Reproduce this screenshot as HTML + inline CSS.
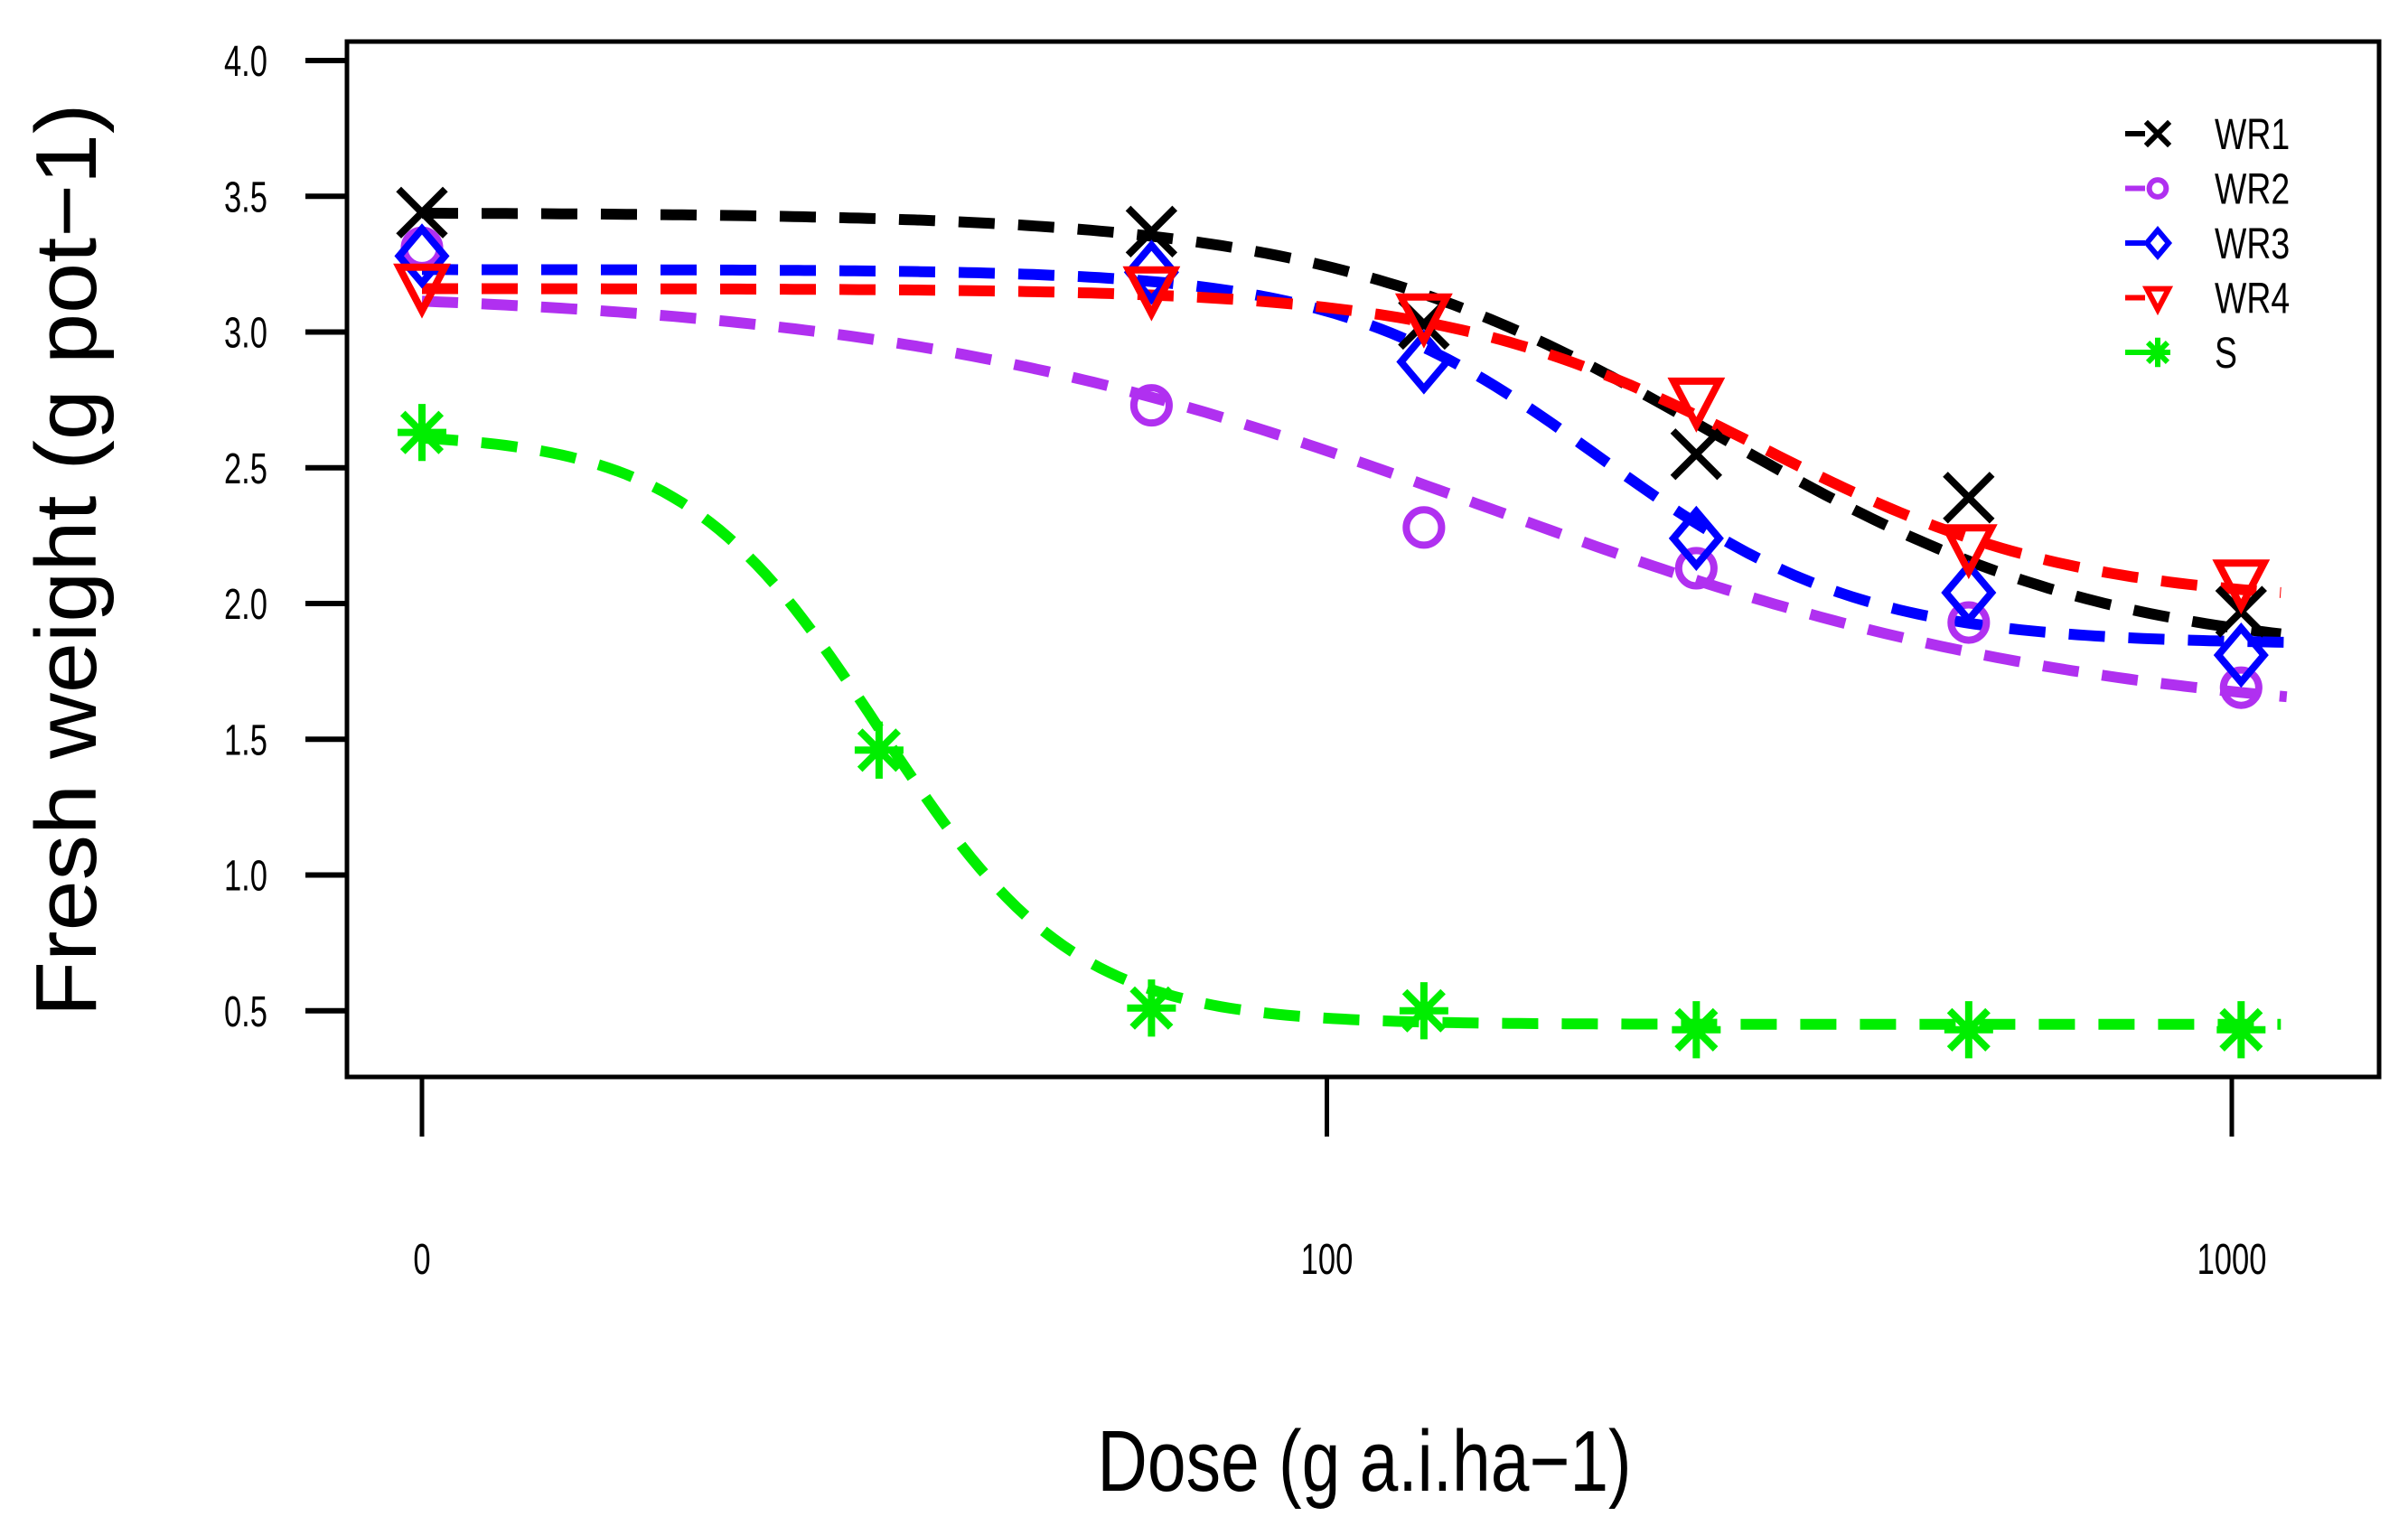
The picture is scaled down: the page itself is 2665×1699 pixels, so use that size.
<!DOCTYPE html>
<html><head><meta charset="utf-8"><style>
html,body{margin:0;padding:0;background:#fff;}
svg{display:block;}
</style></head><body>
<svg id="chart" width="2665" height="1699" viewBox="0 0 2665 1699" xmlns="http://www.w3.org/2000/svg" font-family="Liberation Sans, sans-serif">
<rect x="384" y="46" width="2249" height="1146" fill="none" stroke="#000" stroke-width="5"/>
<g id="yaxis"></g>
<g id="xaxis"></g>
<g id="curves"></g>
<g id="points"></g>
<g id="legend"></g>
<text x="0" y="0" transform="translate(106,620) rotate(-90) scale(1.05,1)" text-anchor="middle" font-size="96" fill="#000">Fresh weight (g pot−1)</text>
<text x="0" y="0" transform="translate(1510,1650) scale(0.8,1)" text-anchor="middle" font-size="96" fill="#000">Dose (g a.i.ha−1)</text>
</svg>
<script>
const yTicks = [0.5, 1.0, 1.5, 2.0, 2.5, 3.0, 3.5, 4.0];
const xTickDoses = [0, 100, 1000];
const xTickLabels = ["0", "100", "1000"];
const seriesNames = ["WR1", "WR2", "WR3", "WR4", "S"];
const seriesColors = ["#000000", "#b030f0", "#0000ff", "#ff0000", "#00ee00"];
const seriesMarkers = ["x", "circle", "diamond", "triangle", "star"];
const dosesWR = [0, 64, 128, 256, 512, 1024];
const dosesS = [0, 32, 64, 128, 256, 512, 1024];
const valuesWR1 = [3.44, 3.37, 3.03, 2.55, 2.39, 1.97];
const valuesWR2 = [3.31, 2.73, 2.28, 2.13, 1.93, 1.69];
const valuesWR3 = [3.28, 3.22, 2.89, 2.24, 2.04, 1.81];
const valuesWR4 = [3.17, 3.16, 3.06, 2.75, 2.21, 2.08];
const valuesS = [2.63, 1.46, 0.51, 0.50, 0.43, 0.43, 0.43];
// log-logistic fit params: lower c, upper d, slope b, ED50 e, max dose
const fitC = [1.80, 1.55, 1.85, 2.00, 0.45];
const fitD = [3.44, 3.16, 3.23, 3.16, 2.63];
const fitB = [2.0, 1.3, 3.0, 2.5, 4.0];
const fitE = [270, 150, 200, 300, 32];
const fitMax = [1133, 1150, 1200, 1133, 1133];

const NS = "http://www.w3.org/2000/svg";
function X(d){ const v = d <= 0 ? 10 : d; return 467 + (Math.log10(v) - 1) * 1001.5; }
function Y(v){ return 67 + (4 - v) * 300.5; }
function mk(tag, attrs, parent){ const e = document.createElementNS(NS, tag); for (const k in attrs) e.setAttribute(k, attrs[k]); parent.appendChild(e); return e; }

const yg = document.getElementById('yaxis');
yTicks.forEach(t => {
  const l = mk('line', {x1:338, x2:384, y1:Y(t), y2:Y(t), stroke:'#000', 'stroke-width':6}, yg);
  
  
  const tx = mk('text', {x:0, y:0, transform:`translate(296,${Y(t)+17}) scale(0.72,1)`, 'text-anchor':'end', 'font-size':48, fill:'#000'}, yg);
  tx.textContent = t.toFixed(1);
  
  
});
const xg = document.getElementById('xaxis');
xTickDoses.forEach((d, i) => {
  const l = mk('line', {x1:X(d), x2:X(d), y1:1192, y2:1258, stroke:'#000', 'stroke-width':5}, xg);
  
  
  const tx = mk('text', {x:0, y:0, transform:`translate(${X(d)},${1410}) scale(0.72,1)`, 'text-anchor':'middle', 'font-size':48, fill:'#000'}, xg);
  tx.textContent = xTickLabels[i];
  
  
});

function marker(type, x, y, color, s, parent, sw){
  const g = mk('g', {stroke:color, 'stroke-width':sw, fill:'none', 'stroke-linecap':'square'}, parent);
  if (type === 'x') {
    mk('path', {d:`M${x-s},${y-s}L${x+s},${y+s}M${x-s},${y+s}L${x+s},${y-s}`}, g);
  } else if (type === 'circle') {
    mk('circle', {cx:x, cy:y, r:s*0.85}, g);
  } else if (type === 'diamond') {
    mk('path', {d:`M${x},${y-s*1.3}L${x+s*1.1},${y}L${x},${y+s*1.3}L${x-s*1.1},${y}Z`}, g);
  } else if (type === 'triangle') {
    mk('path', {d:`M${x-s*1.1},${y-s*0.9}L${x+s*1.1},${y-s*0.9}L${x},${y+s*1.2}Z`}, g);
  } else {
    mk('path', {d:`M${x-s},${y}L${x+s},${y}M${x},${y-s*1.2}L${x},${y+s*1.2}M${x-s*0.8},${y-s*0.8}L${x+s*0.8},${y+s*0.8}M${x-s*0.8},${y+s*0.8}L${x+s*0.8},${y-s*0.8}`}, g);
  }
  return g;
}

const cg = document.getElementById('curves');
const pg = document.getElementById('points');
const allVals = [valuesWR1, valuesWR2, valuesWR3, valuesWR4, valuesS];
seriesNames.forEach((name, i) => {
  let d = '';
  const lmin = 1, lmax = Math.log10(fitMax[i]);
  for (let k = 0; k <= 200; k++) {
    const ld = lmin + (lmax - lmin) * k / 200;
    const dose = Math.pow(10, ld);
    const v = fitC[i] + (fitD[i] - fitC[i]) / (1 + Math.pow(dose / fitE[i], fitB[i]));
    d += (k ? 'L' : 'M') + X(dose).toFixed(1) + ',' + Y(v).toFixed(1);
  }
  const p = mk('path', {d:d, fill:'none', stroke:seriesColors[i], 'stroke-width':12, 'stroke-dasharray':'40 26'}, cg);
  
  
  const doses = name === 'S' ? dosesS : dosesWR;
  allVals[i].forEach((v, j) => {
    const m = marker(seriesMarkers[i], X(doses[j]), Y(v), seriesColors[i], 23, pg, 8);
    
    
  });
  const ly = 148 + i * 60.5;
  const lg = document.getElementById('legend');
  const ln = mk('line', {x1:2352, x2:2374, y1:ly, y2:ly, stroke:seriesColors[i], 'stroke-width':6}, lg);
  
  
  const lm = marker(seriesMarkers[i], 2388, ly, seriesColors[i], 11, lg, 6);
  
  
  const lt = mk('text', {x:0, y:0, transform:`translate(2451,${ly+17}) scale(0.78,1)`, 'font-size':48, fill:'#000'}, lg);
  lt.textContent = name;
  
  
});
</script>
</body></html>
